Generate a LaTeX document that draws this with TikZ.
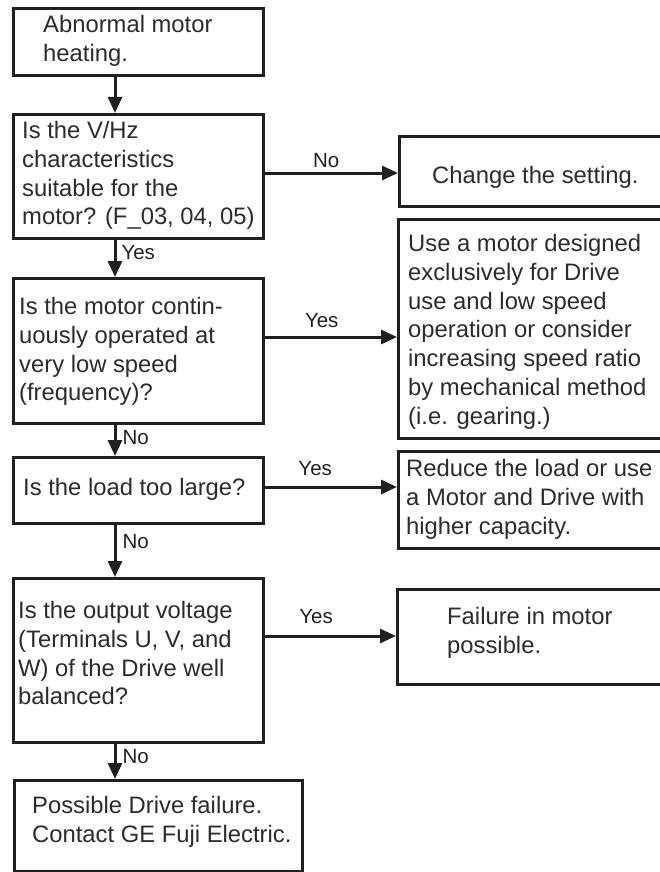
\documentclass[tikz,border=0pt]{standalone}
\usepackage{fontspec}
\setmainfont{Liberation Sans}
\usetikzlibrary{arrows.meta}
\definecolor{ink}{HTML}{231F20}
\definecolor{txtc}{HTML}{2B2B2B}
\begin{document}
\begin{tikzpicture}[x=1pt,y=-1pt,
  box/.style={draw=ink, line width=3pt, rectangle, inner sep=0pt, anchor=north west},
  txt/.style={anchor=north west, inner sep=0pt, align=left, text=txtc,
    font=\fontsize{23.8}{28.8}\selectfont, yshift=16pt, execute at begin node=\strut},
  lbl/.style={inner sep=0pt, text=ink, font=\fontsize{20.5}{24}\selectfont, anchor=base},
  arr/.style={draw=ink, line width=3pt, -{Triangle[length=16pt,width=14pt]}}
]
\useasboundingbox (0,0) rectangle (660,872);
\clip (0,0) rectangle (660,872);

% left column boxes
\node[box, minimum width=250pt, minimum height=67pt]  (b1) at (12,7)   {};
\node[box, minimum width=250pt, minimum height=124pt] (b2) at (12,113) {};
\node[box, minimum width=250pt, minimum height=145pt] (b3) at (12,277) {};
\node[box, minimum width=250pt, minimum height=66pt]  (b4) at (12,456) {};
\node[box, minimum width=250pt, minimum height=164pt] (b5) at (12,577) {};
\node[box, minimum width=288pt, minimum height=91pt]  (b6) at (13,779) {};

% right column boxes
\node[box, minimum width=302pt, minimum height=70pt]  (ch) at (398,135) {};
\node[box, minimum width=303pt, minimum height=219pt] (us) at (397,218) {};
\node[box, minimum width=303pt, minimum height=97pt]  (rd) at (397,450) {};
\node[box, minimum width=304pt, minimum height=95pt]  (fl) at (396,588) {};

% texts
\node[txt] (t1) at (43,31)  {Abnormal motor\\heating.};
\node[txt] (t2) at (22,137) {Is the V/Hz\\characteristics\\suitable for the\\motor? (F\_03, 04, 05)};
\node[txt] (t3) at (19,313) {Is the motor contin-\\uously operated at\\very low speed\\(frequency)?};
\node[txt] (t4) at (23,491) {Is the load too large?};
\node[txt] (t5) at (18,617) {Is the output voltage\\(Terminals U, V, and\\W) of the Drive well\\balanced?};
\node[txt] (t6) at (32,812) {Possible Drive failure.\\Contact GE Fuji Electric.};
\node[txt] (tc) at (432,179) {Change the setting.};
\node[txt] (tu) at (408,250) {Use a motor designed\\exclusively for Drive\\use and low speed\\operation or consider\\increasing speed ratio\\by mechanical method\\(i.e. gearing.)};
\node[txt] (tr) at (406,475) {Reduce the load or use\\a Motor and Drive with\\higher capacity.};
\node[txt] (tf) at (447,623) {Failure in motor\\possible.};

% vertical connectors
\coordinate (ax) at (115,0);
\draw[arr] (ax |- b1.south) -- (ax |- b2.north);
\draw[arr] (ax |- b2.south) -- node[lbl, pos=0.525, anchor=base west, xshift=5pt] (l1) {Yes} (ax |- b3.north);
\draw[arr] (ax |- b3.south) -- node[lbl, pos=0.62, anchor=base west, xshift=6pt] (l2) {No} (ax |- b4.north);
\draw[arr] (ax |- b4.south) -- node[lbl, pos=0.455, anchor=base west, xshift=6pt] (l3) {No} (ax |- b5.north);
\draw[arr] (ax |- b5.south) -- node[lbl, pos=0.55, anchor=base west, xshift=6pt] (l4) {No} (ax |- b6.north);

% horizontal connectors
\coordinate (y1) at (0,173);
\coordinate (y2) at (0,337);
\coordinate (y3) at (0,487);
\coordinate (y4) at (0,636);
\draw[arr] (b2.east |- y1) -- node[lbl, pos=0.46, yshift=6pt] (h1) {No} (ch.west |- y1);
\draw[arr] (b3.east |- y2) -- node[lbl, pos=0.43, yshift=10pt] (h2) {Yes} (us.west |- y2);
\draw[arr] (b4.east |- y3) -- node[lbl, pos=0.38, yshift=12pt] (h3) {Yes} (rd.west |- y3);
\draw[arr] (b5.east |- y4) -- node[lbl, pos=0.39, yshift=13pt] (h4) {Yes} (fl.west |- y4);
\end{tikzpicture}
\end{document}
